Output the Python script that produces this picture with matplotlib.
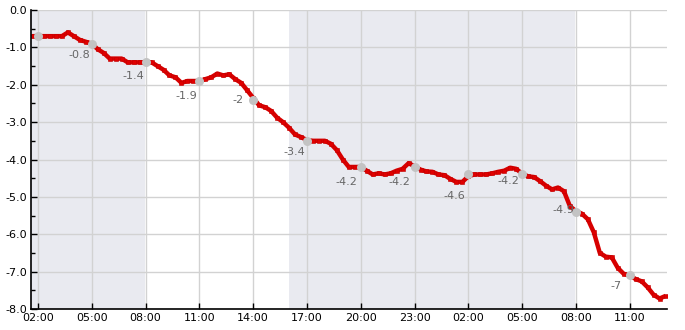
import matplotlib
matplotlib.use("Agg")
import matplotlib.pyplot as plt
import numpy as np
from matplotlib.ticker import FixedLocator, MultipleLocator

plt.rcParams['font.family'] = ['DejaVu Sans']
plt.rcParams['axes.unicode_minus'] = False

# ---- data ----
start_hour = 1 + 40 / 60          # first reading at 01:40 (day 1)
step_minutes = 20
values = [
    -0.7, -0.7, -0.7, -0.7, -0.7, -0.7, -0.6, -0.7, -0.8, -0.85,
    -0.9, -1.05, -1.15, -1.3, -1.3, -1.3, -1.4, -1.4, -1.4, -1.4,
    -1.4, -1.5, -1.6, -1.75, -1.8, -1.95, -1.9, -1.9, -1.9, -1.85,
    -1.8, -1.7, -1.75, -1.72, -1.85, -1.95, -2.15, -2.35, -2.55, -2.6,
    -2.7, -2.88, -3.0, -3.15, -3.33, -3.4, -3.48, -3.5, -3.5, -3.5,
    -3.58, -3.75, -4.0, -4.2, -4.2, -4.2, -4.3, -4.4, -4.37, -4.4,
    -4.37, -4.3, -4.25, -4.1, -4.18, -4.27, -4.32, -4.33, -4.4, -4.42,
    -4.52, -4.6, -4.6, -4.45, -4.4, -4.4, -4.4, -4.37, -4.33, -4.3,
    -4.22, -4.25, -4.38, -4.45, -4.47, -4.58, -4.7, -4.8, -4.75, -4.85,
    -5.25, -5.38, -5.45, -5.6, -5.95, -6.5, -6.6, -6.62, -6.9, -7.06,
    -7.1, -7.2, -7.26, -7.42, -7.62, -7.72, -7.65,
]
tick_hours = [2, 5, 8, 11, 14, 17, 20, 23, 26, 29, 32, 35]
tick_labels = ["02:00", "05:00", "08:00", "11:00", "14:00", "17:00",
               "20:00", "23:00", "02:00", "05:00", "08:00", "11:00"]
marker_values = [-0.7, -0.9, -1.4, -1.9, -2.4, -3.5, -4.2, -4.2, -4.4, -4.4, -5.4, -7.1]
marker_texts = ["", "-0.8", "-1.4", "-1.9", "-2", "-3.4", "-4.2", "-4.2", "-4.6", "-4.2", "-4.9", "-7"]
night_bands = [(1.0, 7.95), (16.0, 31.95)]
y_ticks = [0, -1, -2, -3, -4, -5, -6, -7, -8]

# ---- layout ----
label_offsets = [(0, 0), (-2, -11), (-1, -14), (-2, -15), (-10, 0), (-2, -11),
                 (-3, -15), (-4, -15), (-3, -22), (-3, -7), (-2, 2), (-8, -11)]

hours = start_hour + np.arange(len(values)) * step_minutes / 60.0

fig = plt.figure(figsize=(6.85, 3.3), dpi=100)
ax = fig.add_axes([31 / 685, 1 - 309 / 330, 636 / 685, 299 / 330])

xmin, xmax = 1.61, 37.08
for a, b in night_bands:
    ax.axvspan(max(a, xmin), b, color='#e9eaf0', zorder=0, lw=0)

ax.plot(hours, values, color='#d80000', lw=3.2, zorder=3, solid_capstyle='butt')
ax.plot(hours, values, ls='none', marker='s', ms=2.6, mfc='#e00000', mec='#c00000',
        mew=0.4, zorder=4)

ax.scatter(tick_hours, marker_values, s=42, color='#c3c3c3', zorder=5, lw=0)
for th, mv, txt, (dx, dy) in zip(tick_hours, marker_values, marker_texts, label_offsets):
    if txt:
        ax.annotate(txt, (th, mv), xytext=(dx * 0.72, dy * 0.72), textcoords='offset points',
                    ha='right', va='center', fontsize=8, color='#666666', zorder=6)

ax.set_xlim(xmin, xmax)
ax.set_ylim(-8, 0)
ax.set_xticks(tick_hours)
ax.set_xticklabels(tick_labels)
ax.set_yticks(y_ticks)
ax.set_yticklabels([f"{v:.1f}" for v in y_ticks])
ax.yaxis.set_minor_locator(MultipleLocator(0.5))

ax.grid(True, which='major', color='#d2d2d2', lw=1, zorder=1)
ax.set_axisbelow(True)
for s in ['top', 'right']:
    ax.spines[s].set_visible(False)
for s in ['left', 'bottom']:
    ax.spines[s].set_color('black')
    ax.spines[s].set_linewidth(1.2)
    ax.spines[s].set_zorder(7)

ax.tick_params(axis='both', which='major', direction='in', length=4, width=1,
               labelsize=8, colors='black', pad=3)
ax.tick_params(axis='y', which='minor', direction='in', length=3, width=1)
ax.tick_params(axis='x', which='major', pad=3)

fig.savefig('out.png', dpi=100)
